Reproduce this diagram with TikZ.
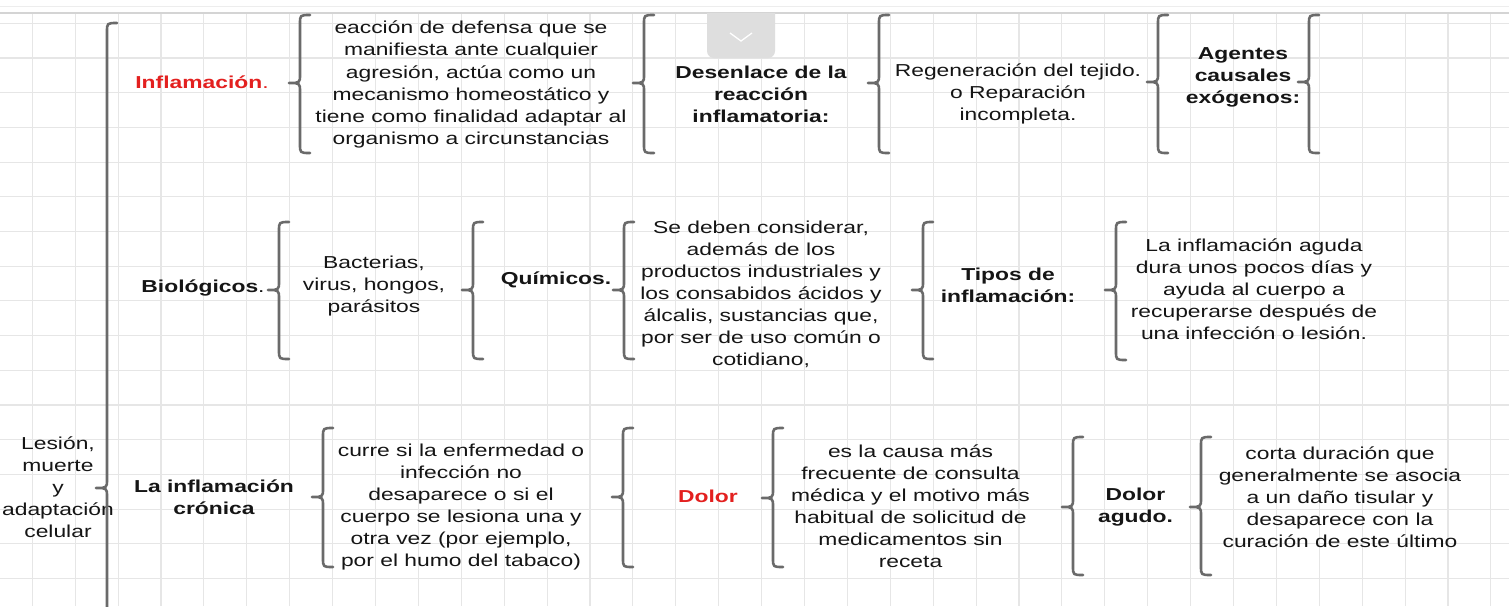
\documentclass[tikz,border=0pt]{standalone}
\usepackage{fontspec}
\setmainfont[FakeStretch=1.32]{Liberation Sans}
\definecolor{gridc}{HTML}{E6E6E6}
\definecolor{bracec}{HTML}{6A6A6A}
\definecolor{textc}{HTML}{151515}
\definecolor{redc}{HTML}{E3201F}
\definecolor{tabc}{HTML}{DEDEDE}
\definecolor{borderc}{HTML}{D4D4D4}
% #1 tip x, #2 top y, #3 bottom y, #4 tip y
\newcommand{\mybrace}[4]{%
  \draw[bracestyle] (#1+21,#2) .. controls (#1+11,#2) .. (#1+11,#2+9)
    -- (#1+11,#4-9) .. controls (#1+11,#4) .. (#1,#4)
    .. controls (#1+11,#4) .. (#1+11,#4+9)
    -- (#1+11,#3-9) .. controls (#1+11,#3) .. (#1+21,#3);}
\begin{document}
\begin{tikzpicture}[x=1pt,y=-1pt,
  gridline/.style={draw=gridc,line width=1.1pt},
  bracestyle/.style={draw=bracec,line width=2.6pt,line cap=round,line join=round},
  lbl/.style={align=center,inner sep=0pt,text=textc,font=\fontsize{17.3}{22.1}\selectfont},
  bl/.style={lbl,font=\fontsize{17.3}{22.1}\selectfont\bfseries},
  rd/.style={bl,text=redc}]
\useasboundingbox (0,0) rectangle (1509,606);
\clip (0,0) rectangle (1509,606);
\fill[white] (0,0) rectangle (1509,606);
% grid
\foreach \i in {0,...,34} \draw[gridline] (32.3+42.9*\i,13) -- (32.3+42.9*\i,606);
\foreach \j in {0,...,16} \draw[gridline] (0,23.3+34.7*\j) -- (1509,23.3+34.7*\j);
\draw[draw=gridc!70,line width=1pt] (0,6) -- (1509,6);
\draw[draw=borderc,line width=2pt] (0,13) -- (1509,13);
% tab
\fill[tabc] (707,13) [rounded corners=7pt] -- (707,58) -- (775,58) [sharp corners] -- (775,13) -- cycle;
\draw[white,line width=1.3pt] (730,33) -- (741,41) -- (752,33);

% root
\node[lbl] (root) at (58,487) {Lesión,\\muerte\\y\\adaptación\\celular};
\mybrace{96}{23}{700}{488}

% row 1
\node[rd] (infl) at (202,82) {Inflamación\textmd{.}};
\mybrace{289}{15}{153}{83}
\node[lbl] (def) at (471,84.5) {eacción de defensa que se\\manifiesta ante cualquier\\agresión, actúa como un\\mecanismo homeostático y\\tiene como finalidad adaptar al\\organismo a circunstancias};
\mybrace{633}{15}{153}{83}
\node[bl] (desen) at (761,94) {Desenlace de la\\reacción\\inflamatoria:};
\mybrace{868}{15}{153}{83}
\node[lbl] (regen) at (1018,94) {Regeneración del tejido.\\o Reparación\\incompleta.};
\mybrace{1147}{15}{153}{82}
\node[bl] (agent) at (1243,77) {Agentes\\causales\\exógenos:};
\mybrace{1298}{15}{153}{82}

% row 2
\node[bl] (bio) at (203,288) {Biológicos\textmd{.}};
\mybrace{268}{222}{359}{290}
\node[lbl] (bact) at (374,286) {Bacterias,\\virus, hongos,\\parásitos};
\mybrace{462}{222}{359}{290}
\node[bl] (quim) at (556,280) {Químicos.};
\mybrace{613}{222}{359}{290}
\node[lbl] (sedeb) at (761,294.5) {Se deben considerar,\\además de los\\productos industriales y\\los consabidos ácidos y\\álcalis, sustancias que,\\por ser de uso común o\\cotidiano,};
\mybrace{912}{222}{359}{290}
\node[bl] (tipos) at (1008,285) {Tipos de\\inflamación:};
\mybrace{1105}{222}{360}{290}
\node[lbl] (aguda) at (1254,289) {La inflamación aguda\\dura unos pocos días y\\ayuda al cuerpo a\\recuperarse después de\\una infección o lesión.};

% row 3
\node[bl] (cron) at (214,497.5) {La inflamación\\crónica};
\mybrace{312}{428}{567}{497}
\node[lbl] (curre) at (461,507) {curre si la enfermedad o\\infección no\\desaparece o si el\\cuerpo se lesiona una y\\otra vez (por ejemplo,\\por el humo del tabaco)};
\mybrace{612}{428}{567}{497}
\node[rd] (dolor) at (708,496) {Dolor};
\mybrace{762}{428}{567}{498}
\node[lbl] (causa) at (910.5,506) {es la causa más\\frecuente de consulta\\médica y el motivo más\\habitual de solicitud de\\medicamentos sin\\receta};
\mybrace{1062}{437}{575}{507}
\node[bl] (dagudo) at (1135.5,507.5) {Dolor\\agudo.};
\mybrace{1190}{437}{575}{507}
\node[lbl] (corta) at (1340,497) {corta duración que\\generalmente se asocia\\a un daño tisular y\\desaparece con la\\curación de este último};
\end{tikzpicture}
\end{document}
